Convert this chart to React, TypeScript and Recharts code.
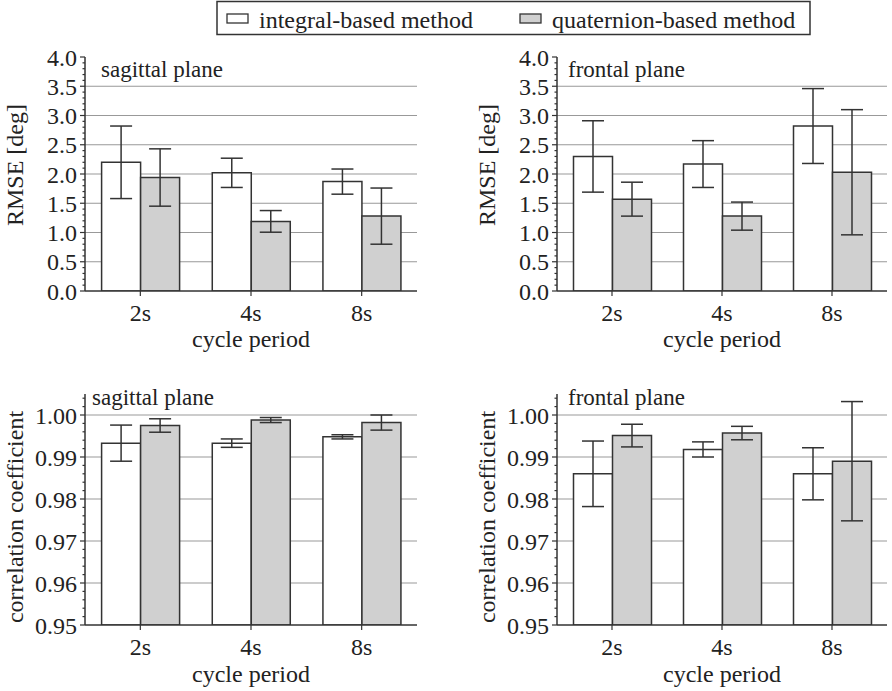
import React from 'react';
import { BarChart, Bar, XAxis, YAxis, CartesianGrid, ErrorBar } from 'recharts';

const categories = ['2s', '4s', '8s'];

const sagRmseInt = [2.2, 2.02, 1.87];
const sagRmseIntErr = [0.62, 0.25, 0.215];
const sagRmseQuat = [1.94, 1.19, 1.28];
const sagRmseQuatErr = [0.49, 0.185, 0.48];

const froRmseInt = [2.3, 2.17, 2.82];
const froRmseIntErr = [0.61, 0.4, 0.64];
const froRmseQuat = [1.57, 1.28, 2.03];
const froRmseQuatErr = [0.29, 0.24, 1.07];

const sagCorrInt = [0.9933, 0.9933, 0.9948];
const sagCorrIntErr = [0.0043, 0.001, 0.0005];
const sagCorrQuat = [0.9975, 0.9988, 0.9982];
const sagCorrQuatErr = [0.0016, 0.0006, 0.0018];

const froCorrInt = [0.986, 0.9918, 0.986];
const froCorrIntErr = [0.0078, 0.0018, 0.0062];
const froCorrQuat = [0.9951, 0.9957, 0.989];
const froCorrQuatErr = [0.0027, 0.0016, 0.0142];

const rmseMajorTicks = [0, 0.5, 1, 1.5, 2, 2.5, 3, 3.5, 4];
const rmseGrid = [0.5, 1, 1.5, 2, 2.5, 3, 3.5];
const corrMajorTicks = [0.95, 0.96, 0.97, 0.98, 0.99, 1.0];
const corrGrid = [0.96, 0.97, 0.98, 0.99, 1.0];

const legendLabels = ['integral-based method', 'quaternion-based method'];

const FONT = "'Liberation Serif', 'DejaVu Serif', serif";
const DARK = '#333333';
const GRAY_FILL = '#d0d0d0';

function minorTicks(start: number, end: number, step: number) {
  const out: number[] = [];
  const n = Math.round((end - start) / step);
  for (let i = 0; i <= n; i++) out.push(Number((start + i * step).toFixed(6)));
  return out;
}

function build(a: number[], ae: number[], b: number[], be: number[]) {
  return categories.map((c, i) => ({ cat: c, a: a[i], ae: ae[i], b: b[i], be: be[i] }));
}

type PanelProps = {
  data: any[];
  left: number;
  top: number;
  width: number;
  height: number;
  marginTop: number;
  marginRight: number;
  domain: [number, number];
  majors: number[];
  allTicks: number[];
  grid: number[];
  digits: number;
};

const TICK_SIZE = 5;
const TICK_MARGIN = 3;

function YTick(props: any) {
  const { x, y, payload, majors, digits } = props;
  const v = payload.value as number;
  const isMajor = majors.some((m: number) => Math.abs(m - v) < 1e-7);
  const axisX = x + TICK_MARGIN + TICK_SIZE;
  const len = isMajor ? TICK_SIZE : 2.5;
  return (
    <g>
      <line x1={axisX - len} y1={y} x2={axisX} y2={y} stroke={DARK} strokeWidth={1.2} />
      {isMajor ? (
        <text x={x} y={y} dy="0.36em" textAnchor="end" fontSize={24} fontFamily={FONT} fill="#222">
          {v.toFixed(digits)}
        </text>
      ) : null}
    </g>
  );
}

function Panel(p: PanelProps) {
  return (
    <div style={{ position: 'absolute', left: p.left, top: p.top, width: p.width, height: p.height }}>
      <BarChart
        width={p.width}
        height={p.height}
        data={p.data}
        margin={{ top: p.marginTop, right: p.marginRight, left: 35, bottom: 24 }}
        barCategoryGap="15%"
        barGap={0}
      >
        <CartesianGrid
          vertical={false}
          horizontal={true}
          horizontalValues={p.grid}
          stroke="#999999"
          strokeWidth={1.2}
        />
        <XAxis
          dataKey="cat"
          height={30}
          tickSize={5}
          tickMargin={8}
          axisLine={{ stroke: DARK, strokeWidth: 1.5 }}
          tickLine={{ stroke: DARK, strokeWidth: 1.2 }}
          tick={{ fontSize: 24, fontFamily: FONT, fill: '#222' }}
        />
        <YAxis
          width={50}
          domain={p.domain}
          ticks={p.allTicks}
          interval={0}
          allowDataOverflow
          tickSize={TICK_SIZE}
          tickMargin={TICK_MARGIN}
          axisLine={{ stroke: DARK, strokeWidth: 1.5 }}
          tickLine={false}
          tick={(tp: any) => <YTick {...tp} majors={p.majors} digits={p.digits} />}
        />
        <Bar dataKey="a" fill="#ffffff" stroke={DARK} strokeWidth={1.5} isAnimationActive={false}>
          <ErrorBar dataKey="ae" width={11} stroke={DARK} strokeWidth={1.5} direction="y" />
        </Bar>
        <Bar dataKey="b" fill={GRAY_FILL} stroke={DARK} strokeWidth={1.5} isAnimationActive={false}>
          <ErrorBar dataKey="be" width={11} stroke={DARK} strokeWidth={1.5} direction="y" />
        </Bar>
      </BarChart>
    </div>
  );
}

export default function App() {
  const t = { fontFamily: FONT, fill: '#222' } as const;
  const rmseAll = minorTicks(0, 4, 0.1);
  const corrAll = minorTicks(0.95, 1.004, 0.002);
  return (
    <div style={{ position: 'absolute', left: 0, top: 0, width: 892, height: 691, background: '#fff', overflow: 'hidden', fontFamily: FONT }}>
      <Panel
        data={build(sagRmseInt, sagRmseIntErr, sagRmseQuat, sagRmseQuatErr)}
        left={0} top={0} width={430} height={345} marginTop={57} marginRight={13}
        domain={[0, 4]} majors={rmseMajorTicks} allTicks={rmseAll} grid={rmseGrid} digits={1}
      />
      <Panel
        data={build(froRmseInt, froRmseIntErr, froRmseQuat, froRmseQuatErr)}
        left={472} top={0} width={420} height={345} marginTop={57} marginRight={5}
        domain={[0, 4]} majors={rmseMajorTicks} allTicks={rmseAll} grid={rmseGrid} digits={1}
      />
      <Panel
        data={build(sagCorrInt, sagCorrIntErr, sagCorrQuat, sagCorrQuatErr)}
        left={0} top={330} width={430} height={349} marginTop={64} marginRight={13}
        domain={[0.95, 1.005]} majors={corrMajorTicks} allTicks={corrAll} grid={corrGrid} digits={2}
      />
      <Panel
        data={build(froCorrInt, froCorrIntErr, froCorrQuat, froCorrQuatErr)}
        left={472} top={330} width={420} height={349} marginTop={64} marginRight={5}
        domain={[0.95, 1.005]} majors={corrMajorTicks} allTicks={corrAll} grid={corrGrid} digits={2}
      />
      <svg width={892} height={691} style={{ position: 'absolute', left: 0, top: 0, pointerEvents: 'none' }}>
        <rect x={217} y={1.5} width={593} height={33} fill="none" stroke={DARK} strokeWidth={1.5} />
        <rect x={227} y={14} width={21} height={9} fill="#fff" stroke={DARK} strokeWidth={1.3} />
        <text x={259} y={28} fontSize={24} {...t}>{legendLabels[0]}</text>
        <rect x={520} y={14} width={21} height={9} fill={GRAY_FILL} stroke={DARK} strokeWidth={1.3} />
        <text x={552} y={28} fontSize={24} {...t}>{legendLabels[1]}</text>

        <text transform="translate(23,165) rotate(-90)" textAnchor="middle" fontSize={24} {...t}>RMSE [deg]</text>
        <text transform="translate(495,165) rotate(-90)" textAnchor="middle" fontSize={24} {...t}>RMSE [deg]</text>
        <text transform="translate(23,517) rotate(-90)" textAnchor="middle" fontSize={24} {...t}>correlation coefficient</text>
        <text transform="translate(495,517) rotate(-90)" textAnchor="middle" fontSize={24} {...t}>correlation coefficient</text>

        <text x={251} y={347} textAnchor="middle" fontSize={24} {...t}>cycle period</text>
        <text x={722} y={347} textAnchor="middle" fontSize={24} {...t}>cycle period</text>
        <text x={251} y={682} textAnchor="middle" fontSize={24} {...t}>cycle period</text>
        <text x={722} y={682} textAnchor="middle" fontSize={24} {...t}>cycle period</text>

        <text x={101} y={77} fontSize={23} {...t}>sagittal plane</text>
        <text x={568} y={77} fontSize={23} {...t}>frontal plane</text>
        <text x={92} y={405} fontSize={23} {...t}>sagittal plane</text>
        <text x={568} y={405} fontSize={23} {...t}>frontal plane</text>
      </svg>
    </div>
  );
}
